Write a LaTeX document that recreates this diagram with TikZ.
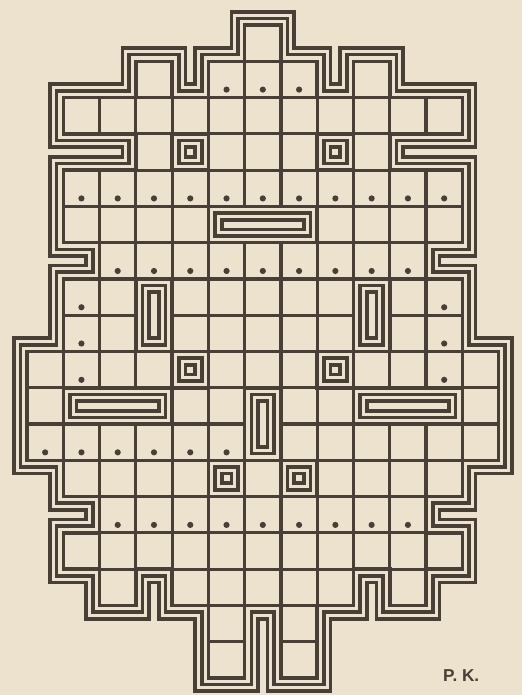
\documentclass[tikz,border=0pt]{standalone}
\usepackage{fontspec}
\newfontfamily\sigfont{Liberation Sans}
\definecolor{paper}{RGB}{236,226,205}
\definecolor{ink}{RGB}{72,63,54}
\usetikzlibrary{calc}

\begin{document}
\begin{tikzpicture}[line join=miter,
    wallline/.style={ink,line width=#1},
    gapline/.style={paper,line width=#1},
    cellline/.style={ink,line width=2.5pt},
    rimline/.style={ink,line width=2.8pt},
    dotmark/.style={ink}]
  %% Paper
  \fill[paper] (-0.745,0.69) rectangle (13.634,-18.469);
  \useasboundingbox (-0.745,0.69) rectangle (13.634,-18.469);
  %% Board outline and the blocks inside it
  \def\board{(6,0) -- (7,0) -- (7,-1) -- (8,-1) -- (8,-2) -- (9,-2) -- (9,-1) -- (10,-1)
    -- (10,-2) -- (12,-2) -- (12,-3) -- (10,-3) -- (10,-4) -- (12,-4) -- (12,-6) -- (11,-6)
    -- (11,-7) -- (12,-7) -- (12,-9) -- (13,-9) -- (13,-12) -- (12,-12) -- (12,-13) -- (11,-13)
    -- (11,-14) -- (12,-14) -- (12,-15) -- (11,-15) -- (11,-16) -- (10,-16) -- (10,-15) -- (9,-15)
    -- (9,-16) -- (8,-16) -- (8,-18) -- (7,-18) -- (7,-16) -- (6,-16) -- (6,-18) -- (5,-18)
    -- (5,-16) -- (4,-16) -- (4,-15) -- (3,-15) -- (3,-16) -- (2,-16) -- (2,-15) -- (1,-15)
    -- (1,-14) -- (2,-14) -- (2,-13) -- (1,-13) -- (1,-12) -- (0,-12) -- (0,-9) -- (1,-9)
    -- (1,-7) -- (2,-7) -- (2,-6) -- (1,-6) -- (1,-4) -- (3,-4) -- (3,-3) -- (1,-3)
    -- (1,-2) -- (3,-2) -- (3,-1) -- (4,-1) -- (4,-2) -- (5,-2) -- (5,-1) -- (6,-1) -- cycle}
  \def\blocks{(4,-3) rectangle (5,-4) (8,-3) rectangle (9,-4) (5,-5) rectangle (8,-6)
    (3,-7) rectangle (4,-9) (9,-7) rectangle (10,-9) (4,-9) rectangle (5,-10)
    (8,-9) rectangle (9,-10) (1,-10) rectangle (4,-11) (9,-10) rectangle (12,-11)
    (6,-10) rectangle (7,-12) (5,-12) rectangle (6,-13) (7,-12) rectangle (8,-13)}
  %% Triple walls
  \draw[wallline=0.834cm] \board \blocks;
  \draw[gapline=0.634cm] \board \blocks;
  \draw[wallline=0.468cm] \board \blocks;
  \draw[gapline=0.268cm] \board \blocks;
  \fill[paper,even odd rule] \board \blocks;
  %% Cells
  \begin{scope}[even odd rule]
    \clip \board \blocks;
    \draw[cellline] (0,0) grid (13,-18);
  \end{scope}
  \draw[rimline] \board \blocks;
  %% Dots
  \foreach \r/\cs in {1/{5,6,7},4/{1,...,11},6/{2,...,10},7/{1,11},8/{1,11},9/{1,11},11/{0,...,5},13/{2,...,10}}
    \foreach \c in \cs
      \fill[dotmark] (\c+0.5,-\r-0.78) circle (0.085);
  %% Signature
  \node[text=ink,font=\sigfont\bfseries\fontsize{13.5}{16}\selectfont] (sig) at (11.97,-17.93) {P. K.};
\end{tikzpicture}
\end{document}
